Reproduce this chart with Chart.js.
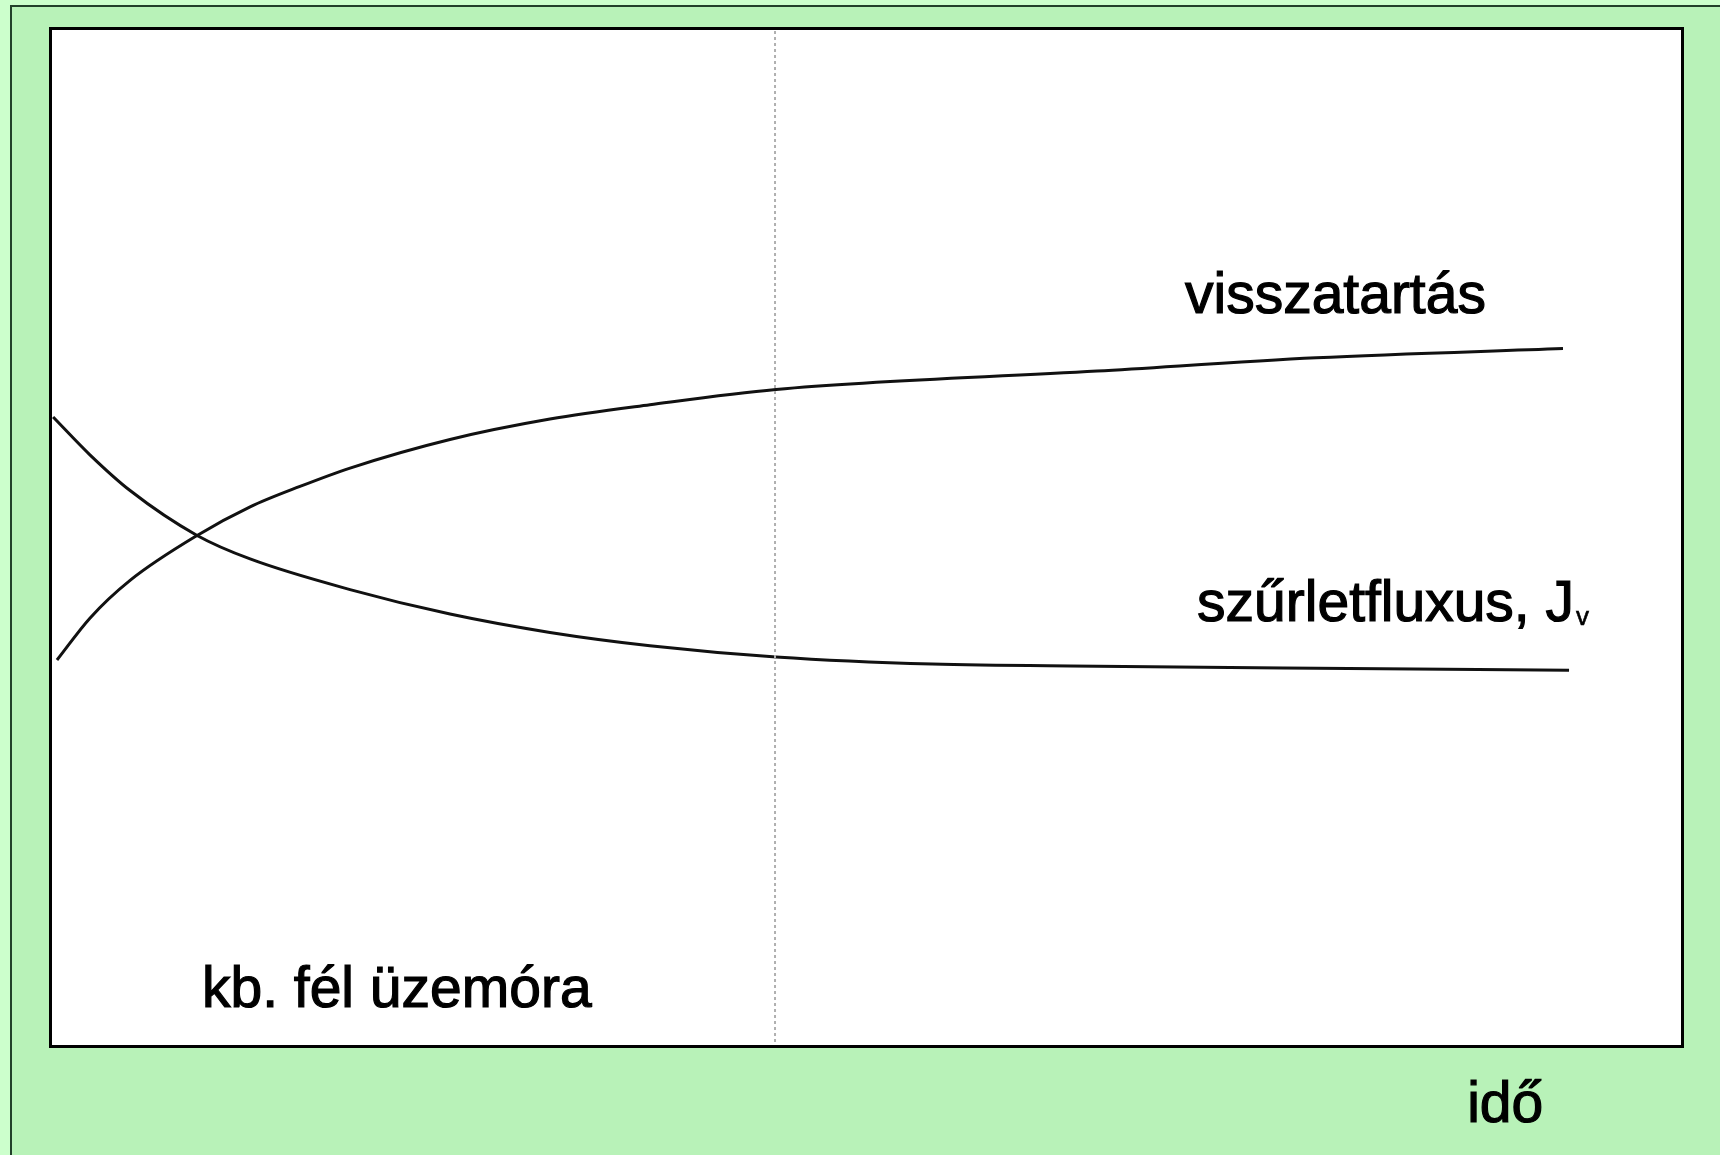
<!DOCTYPE html>
<html>
<head>
<meta charset="utf-8">
<script src="https://cdn.jsdelivr.net/npm/chart.js@4"></script>
<style>
  html, body { margin: 0; padding: 0; }
  body { width: 1720px; height: 1155px; background: #ccffcc; position: relative; overflow: hidden; }
  #frame {
    position: absolute; left: 10px; top: 5px; right: 0; bottom: 0;
    background: #b8f2b8; border-left: 2px solid #22402a; border-top: 2px solid #22402a;
  }
  #wrap { position: absolute; left: 0; top: 0; width: 1720px; height: 1155px; }
</style>
</head>
<body>
<div id="frame"></div>
<div id="wrap"><canvas id="chart" width="1720" height="1155"></canvas></div>
<script>
// idő (perc) és relatív értékek
const retentionX = [0.33, 1.69, 3.35, 6.12, 8.31, 10.37, 12.44, 16.57, 20.70, 24.83, 30.04, 43.31, 52.36, 62.56]
const retentionY = [38.0, 42.1, 45.8, 50.2, 53.0, 55.0, 56.8, 59.6, 61.6, 63.0, 64.5, 66.3, 67.6, 68.5]

const fluxX = [0.17, 1.69, 3.35, 6.12, 8.31, 12.44, 16.57, 20.70, 24.83, 30.04, 36.49, 43.31, 52.36, 62.81]
const fluxY = [61.8, 58.1, 54.6, 50.2, 47.9, 44.9, 42.5, 40.7, 39.4, 38.3, 37.6, 37.4, 37.2, 37.0]

const markerX = 30 // kb. fél üzemóra

const toPoints = (xs, ys) => xs.map((x, i) => ({ x, y: ys[i] }))

const labelFont = '57px "Liberation Sans", Arial, sans-serif'

function label(ctx, text, x, y) {
  ctx.fillText(text, x, y)
  ctx.strokeText(text, x, y)
}

const boxPlugin = {
  id: 'box',
  beforeDraw(chart) {
    const { ctx, chartArea } = chart
    ctx.save()
    ctx.fillStyle = '#ffffff'
    ctx.fillRect(chartArea.left, chartArea.top, chartArea.width, chartArea.height)
    ctx.restore()
  },
  afterDraw(chart) {
    const { ctx, chartArea, scales } = chart
    const x = scales.x
    const y = scales.y
    ctx.save()
    ctx.strokeStyle = '#000'
    ctx.lineWidth = 3
    ctx.strokeRect(chartArea.left + 1.5, chartArea.top + 1.5, chartArea.width - 3, chartArea.height - 3)

    ctx.fillStyle = '#000'
    ctx.lineWidth = 1.2
    ctx.textBaseline = 'alphabetic'
    ctx.font = labelFont
    label(ctx, 'visszatartás', x.getPixelForValue(46.94), y.getPixelForValue(72.0))
    const jx = x.getPixelForValue(47.44)
    const jy = y.getPixelForValue(41.8)
    const main = 'szűrletfluxus, J'
    label(ctx, main, jx, jy)
    const w = ctx.measureText(main).width
    ctx.font = '26px "Liberation Sans", Arial, sans-serif'
    ctx.lineWidth = 0.6
    label(ctx, 'v', jx + w + 2, jy + 4)
    ctx.font = labelFont
    ctx.lineWidth = 1.2
    label(ctx, 'kb. fél üzemóra', x.getPixelForValue(6.32), y.getPixelForValue(4.0))
    label(ctx, 'idő', x.getPixelForValue(58.6), y.getPixelForValue(-7.25))
    ctx.restore()
  }
}

const lineStyle = {
  borderColor: '#111',
  borderWidth: 3,
  pointRadius: 0,
  fill: false,
  cubicInterpolationMode: 'monotone'
}

new Chart(document.getElementById('chart').getContext('2d'), {
  type: 'line',
  data: {
    datasets: [
      {
        label: 'kb. fél üzemóra',
        data: [{ x: markerX, y: 0 }, { x: markerX, y: 100 }],
        borderColor: '#b0b0b0',
        borderWidth: 2,
        borderDash: [3, 3],
        pointRadius: 0,
        fill: false
      },
      { label: 'visszatartás', data: toPoints(retentionX, retentionY), ...lineStyle },
      { label: 'szűrletfluxus, Jv', data: toPoints(fluxX, fluxY), ...lineStyle }
    ]
  },
  options: {
    responsive: false,
    animation: false,
    layout: { padding: { left: 49, top: 27, right: 36, bottom: 107 } },
    plugins: { legend: { display: false }, tooltip: { enabled: false } },
    scales: {
      x: { type: 'linear', min: 0, max: 67.56, display: false },
      y: { type: 'linear', min: 0, max: 100, display: false }
    }
  },
  plugins: [boxPlugin]
})
</script>
</body>
</html>
